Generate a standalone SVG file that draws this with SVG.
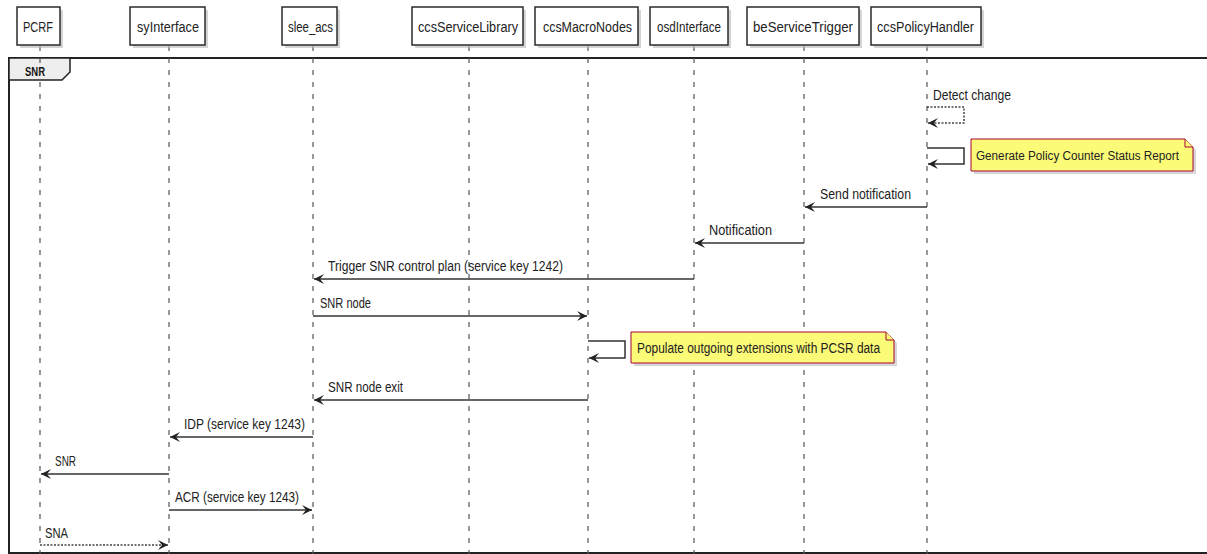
<svg xmlns="http://www.w3.org/2000/svg" width="1207" height="554" viewBox="0 0 1207 554">
<style>
.pbox{fill:#fff;stroke:#2b2b2b;stroke-width:1.5}
.shadow{fill:#b8b8b8;opacity:0.6}
.ptxt{font-family:"Liberation Sans",Arial,sans-serif;font-size:14px;fill:#222;text-anchor:start}
.life{stroke:#555;stroke-width:1.2;stroke-dasharray:5,7;fill:none}
.msg{stroke:#333;stroke-width:1.5;fill:none}
.dot{stroke:#444;stroke-width:1.5;fill:none;stroke-dasharray:2,1.5}
.mtxt{font-family:"Liberation Sans",Arial,sans-serif;font-size:14px;fill:#222}
.note{fill:#FBFB77;stroke:#A80036;stroke-width:1}
.nshadow{fill:#bbb;opacity:0.6}
.frame{fill:none;stroke:#222;stroke-width:2}
</style>
<defs>
<marker id="ah" markerUnits="userSpaceOnUse" markerWidth="11" markerHeight="11" refX="10" refY="5" orient="auto">
<path d="M0,0 L10,5 L0,10 L4,5 Z" fill="#222"/>
</marker>
</defs>
<rect x="0" y="0" width="1207" height="554" fill="#fff"/>

<!-- frame -->
<g id="frame">
<rect class="frame" x="9" y="58" width="1210" height="495"/>
<path d="M9,58 H70 V72 L62,80 H9 Z" fill="#eeeeee" stroke="#222" stroke-width="1.5"/>
<text x="25" y="76" font-family="'Liberation Sans',Arial,sans-serif" font-size="13" font-weight="bold" fill="#111" textLength="20" lengthAdjust="spacingAndGlyphs">SNR</text>
</g>

<!-- lifelines -->
<g id="lifelines">
<line class="life" x1="40" y1="46" x2="40" y2="554"/>
<line class="life" x1="169" y1="46" x2="169" y2="554"/>
<line class="life" x1="313" y1="46" x2="313" y2="554"/>
<line class="life" x1="469" y1="46" x2="469" y2="554"/>
<line class="life" x1="588" y1="46" x2="588" y2="554"/>
<line class="life" x1="694" y1="46" x2="694" y2="554"/>
<line class="life" x1="804" y1="46" x2="804" y2="554"/>
<line class="life" x1="927" y1="46" x2="927" y2="554"/>
</g>

<!-- participants -->
<g id="PCRF">
<rect class="shadow" x="20" y="10" width="43" height="38"/>
<rect class="pbox" x="17" y="7" width="43" height="38"/>
<text class="ptxt" x="23" y="32" textLength="30" lengthAdjust="spacingAndGlyphs">PCRF</text>
</g>
<g id="syInterface">
<rect class="shadow" x="133" y="10" width="75" height="38"/>
<rect class="pbox" x="130" y="7" width="75" height="38"/>
<text class="ptxt" x="137" y="32" textLength="62" lengthAdjust="spacingAndGlyphs">syInterface</text>
</g>
<g id="slee_acs">
<rect class="shadow" x="285" y="10" width="55" height="38"/>
<rect class="pbox" x="282" y="7" width="55" height="38"/>
<text class="ptxt" x="288" y="32" textLength="45" lengthAdjust="spacingAndGlyphs">slee_acs</text>
</g>
<g id="ccsServiceLibrary">
<rect class="shadow" x="415" y="10" width="111" height="38"/>
<rect class="pbox" x="412" y="7" width="111" height="38"/>
<text class="ptxt" x="418" y="32" textLength="100" lengthAdjust="spacingAndGlyphs">ccsServiceLibrary</text>
</g>
<g id="ccsMacroNodes">
<rect class="shadow" x="538" y="10" width="103" height="38"/>
<rect class="pbox" x="535" y="7" width="103" height="38"/>
<text class="ptxt" x="543" y="32" textLength="89" lengthAdjust="spacingAndGlyphs">ccsMacroNodes</text>
</g>
<g id="osdInterface">
<rect class="shadow" x="653" y="10" width="78" height="38"/>
<rect class="pbox" x="650" y="7" width="78" height="38"/>
<text class="ptxt" x="657" y="32" textLength="64" lengthAdjust="spacingAndGlyphs">osdInterface</text>
</g>
<g id="beServiceTrigger">
<rect class="shadow" x="750" y="10" width="112" height="38"/>
<rect class="pbox" x="747" y="7" width="112" height="38"/>
<text class="ptxt" x="753" y="32" textLength="100" lengthAdjust="spacingAndGlyphs">beServiceTrigger</text>
</g>
<g id="ccsPolicyHandler">
<rect class="shadow" x="874" y="10" width="110" height="38"/>
<rect class="pbox" x="871" y="7" width="110" height="38"/>
<text class="ptxt" x="877" y="32" textLength="97" lengthAdjust="spacingAndGlyphs">ccsPolicyHandler</text>
</g>

<!-- notes -->
<g id="note_generate">
<path class="nshadow" d="M974,142 H1188 L1196,150 V174 H974 Z"/>
<path class="note" d="M971,139 H1185 L1193,147 V171 H971 Z"/>
<path class="note" d="M1185,139 V147 H1193" fill="none"/>
<text class="mtxt" x="976" y="160" font-size="12" style="font-size:12px" textLength="203" lengthAdjust="spacingAndGlyphs">Generate Policy Counter Status Report</text>
</g>
<g id="note_populate">
<path class="nshadow" d="M634,335 H889 L897,343 V366 H634 Z"/>
<path class="note" d="M631,332 H886 L894,340 V363 H631 Z"/>
<path class="note" d="M886,332 V340 H894" fill="none"/>
<text class="mtxt" x="637" y="353" textLength="243" lengthAdjust="spacingAndGlyphs">Populate outgoing extensions with PCSR data</text>
</g>

<!-- connectors -->
<g id="connectors">
<path class="dot" d="M927,107 H964 V123 H928" marker-end="url(#ah)"/>
<text class="mtxt" x="933" y="100" textLength="78" lengthAdjust="spacingAndGlyphs">Detect change</text>

<path class="msg" d="M927,148 H964 V164 H928" marker-end="url(#ah)"/>

<line class="msg" x1="927" y1="207" x2="805" y2="207" marker-end="url(#ah)"/>
<text class="mtxt" x="820" y="199" textLength="91" lengthAdjust="spacingAndGlyphs">Send notification</text>

<line class="msg" x1="804" y1="243" x2="695" y2="243" marker-end="url(#ah)"/>
<text class="mtxt" x="709" y="235" textLength="63" lengthAdjust="spacingAndGlyphs">Notification</text>

<line class="msg" x1="694" y1="279" x2="314" y2="279" marker-end="url(#ah)"/>
<text class="mtxt" x="328" y="271" textLength="235" lengthAdjust="spacingAndGlyphs">Trigger SNR control plan (service key 1242)</text>

<line class="msg" x1="313" y1="316" x2="587" y2="316" marker-end="url(#ah)"/>
<text class="mtxt" x="320" y="308" textLength="51" lengthAdjust="spacingAndGlyphs">SNR node</text>

<path class="msg" d="M588,341 H625 V358 H589" marker-end="url(#ah)"/>

<line class="msg" x1="588" y1="400" x2="314" y2="400" marker-end="url(#ah)"/>
<text class="mtxt" x="328" y="392" textLength="75" lengthAdjust="spacingAndGlyphs">SNR node exit</text>

<line class="msg" x1="313" y1="437" x2="170" y2="437" marker-end="url(#ah)"/>
<text class="mtxt" x="184" y="429" textLength="121" lengthAdjust="spacingAndGlyphs">IDP (service key 1243)</text>

<line class="msg" x1="169" y1="474" x2="41" y2="474" marker-end="url(#ah)"/>
<text class="mtxt" x="55" y="466" textLength="21" lengthAdjust="spacingAndGlyphs">SNR</text>

<line class="msg" x1="169" y1="510" x2="312" y2="510" marker-end="url(#ah)"/>
<text class="mtxt" x="175" y="502" textLength="124" lengthAdjust="spacingAndGlyphs">ACR (service key 1243)</text>

<line class="dot" x1="40" y1="545" x2="168" y2="545" marker-end="url(#ah)"/>
<text class="mtxt" x="45" y="538" textLength="23" lengthAdjust="spacingAndGlyphs">SNA</text>
</g>
</svg>
